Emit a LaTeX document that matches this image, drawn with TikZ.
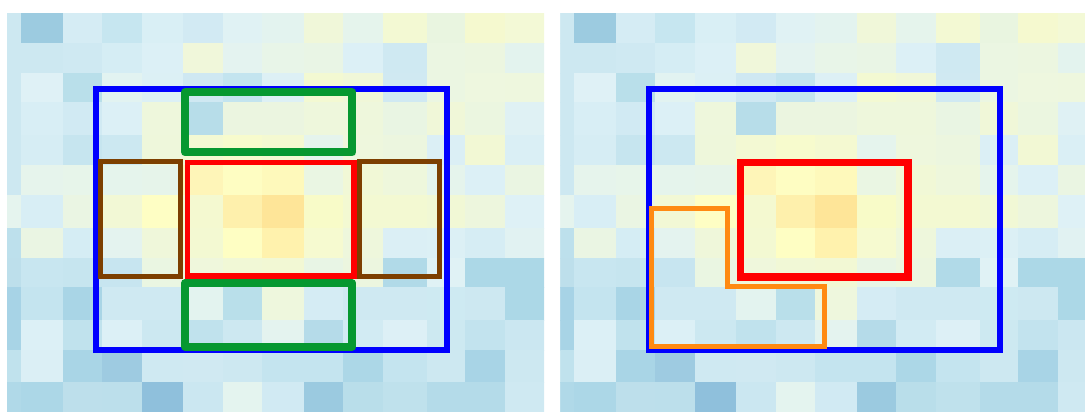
\documentclass[tikz,border=0pt]{standalone}
\begin{document}
\begin{tikzpicture}[x=1pt,y=-1pt,
  bluebox/.style={draw=blue,line width=6pt,line join=miter},
  greenbox/.style={draw=boxgreen,line width=8pt,line join=round},
  redbox/.style={draw=red,line width=5.5pt,line join=miter},
  brownbox/.style={draw=boxbrown,line width=5pt,line join=miter},
  orangebox/.style={draw=boxorange,line width=5pt,line join=miter}]
\definecolor{boxgreen}{HTML}{069830}
\definecolor{boxbrown}{HTML}{7D3F00}
\definecolor{boxorange}{HTML}{FF8A12}
\useasboundingbox (0,0) rectangle (1085,412);
\def\xs{{7,21,63,101.7,141.7,183,222.7,261.7,304,343.3,383.3,426.7,465,505,544}}
\def\ys{{13.3,42.7,72.7,101.7,135,165,195,228.3,258.3,287.3,320,350,381.7,412}}
\def\heatrows{%
{CDE8F1,9CCBE0,D5ECF4,C6E6F0,D9EFF5,D2EAF3,E0F2F4,E3F3EF,F0F7D9,E5F4EC,F3F9D3,E9F5E0,F5F9CF,F3F9D6},%
{CDE8F1,CDE8F1,CFE9F2,D5EDF4,DCF0F6,F0F7DA,E4F3F0,E8F5E8,E9F5E5,DCF0F6,CFE9F2,EBF6E2,ECF6E0,E3F3EE},%
{CDE8F1,DFF1F6,B9DFEA,E2F3F1,DCF0F5,CFE8F2,C3E4EF,DDF0F5,F3F9D2,F0F7D8,D0E9F2,EBF6E2,EEF7DF,EEF7DE},%
{CDE8F1,D8EEF5,D1EAF3,DCF0F6,EEF7DC,B7DDE9,EBF5E0,EBF5E0,EEF7DC,EEF7DC,E9F5E3,F0F7D8,EBF6E0,DFF1F4},%
{CDE8F1,D6EDF4,C6E5EF,CCE8F1,EEF7DB,F3F9D3,F7FBCD,F4F9D1,E5F4ED,EEF7DD,ECF6DF,DBEFF5,F2F8D4,DAEFF5},%
{CDE8F1,E6F4EC,E7F5EA,E5F4EC,E6F4EA,FEF5B8,FEFDC2,FEF9BB,EAF6E3,F1F8D6,EEF7DC,E5F4EC,DCF0F6,EAF5E2},%
{E5F4EE,D8EEF5,EAF5E3,F2F8D5,FEFEC4,F4F9D0,FEF0AC,FEE598,F8FBC8,F3F9D2,F3F9D2,F1F8D5,EDF6DD,DEF1F6},%
{BDE0EC,EAF5E3,D5EDF4,E4F3EF,EFF7DA,F3F9D2,FEFEC3,FFF2AD,F6FAD0,EEF7DC,DBEFF5,DCF0F5,D6EDF4,E1F2F2},%
{BDDFEB,C8E6F0,C6E5EF,C7E5F0,EAF6E2,EFF7DC,F1F8D6,F2F8D4,E8F5E5,ECF6DF,B1DAE8,E0F2F5,ACD8E7,ACD8E7},%
{A7D3E6,C4E4EF,A9D5E6,CFE9F2,CFE9F2,E3F3EF,B9DFEA,EEF7DD,D5ECF4,CFE9F2,CFE9F2,CEEAF2,CDE8F1,ACD8E7},%
{A8D4E6,DCF0F6,C0E2ED,DCF0F6,CCE8F1,C0E2ED,CDE8F1,E4F3EF,B5DBE9,D2EBF3,DDF0F6,CDE9F1,C2E3EE,CBE7F1},%
{C0E2ED,DBEFF5,A9D5E6,9ECBE1,CFE9F2,D0E9F2,CDE8F1,C4E4EF,C4E4EF,ACD7E7,C4E4EF,CDE8F1,A8D4E6,CDE8F1},%
{B0D9E8,ACD7E7,BDDFEB,BCDFEB,8FC0DC,CBE7F1,E4F4EF,D1EAF3,9BCAE0,B9DEEA,BFE1EC,B4DBE9,B4DBE9,CFE9F2}}
\newcommand\heatpanel[1]{%
 \foreach \rowc [count=\r from 0] in \heatrows {%
  \foreach \hx [count=\k from 0] in \rowc {%
   \pgfmathsetmacro\xa{\xs[\k]+#1}%
   \pgfmathsetmacro\xb{\xs[\k+1]+#1}%
   \pgfmathsetmacro\ya{\ys[\r]}%
   \pgfmathsetmacro\yb{\ys[\r+1]}%
   \definecolor{cellc}{HTML}{\hx}%
   \fill[cellc,draw=cellc,line width=0.3pt] (\xa,\ya) rectangle (\xb,\yb);
  }}}
% left panel
\begin{scope}
\clip (7,13.3) rectangle (544,412);
\heatpanel{0}
\end{scope}
% right panel
\begin{scope}
\clip (560.3,13.3) rectangle (1085,412);
\heatpanel{553.3}
\end{scope}
% left panel boxes
\draw[bluebox] (95.5,89) rectangle (447.3,349.7);
\draw[brownbox] (100.7,161.7) rectangle (180.7,276.7);
\draw[brownbox] (359,161.7) rectangle (439.7,276.7);
\draw[redbox] (187.7,162.3) rectangle (354,276);
\draw[greenbox] (185,92.3) rectangle (352.3,152.3);
\draw[greenbox] (185,283.3) rectangle (352.3,346.7);
% right panel boxes
\draw[bluebox] (648.6,89) rectangle (1000.2,349.7);
\draw[redbox,line width=7.5pt] (740.6,162.7) rectangle (908,277);
\draw[orangebox] (651.7,208) -- (727.5,208) -- (727.5,286.3) -- (824,286.3) -- (824,346.7) -- (651.7,346.7) -- cycle;
\end{tikzpicture}
\end{document}
